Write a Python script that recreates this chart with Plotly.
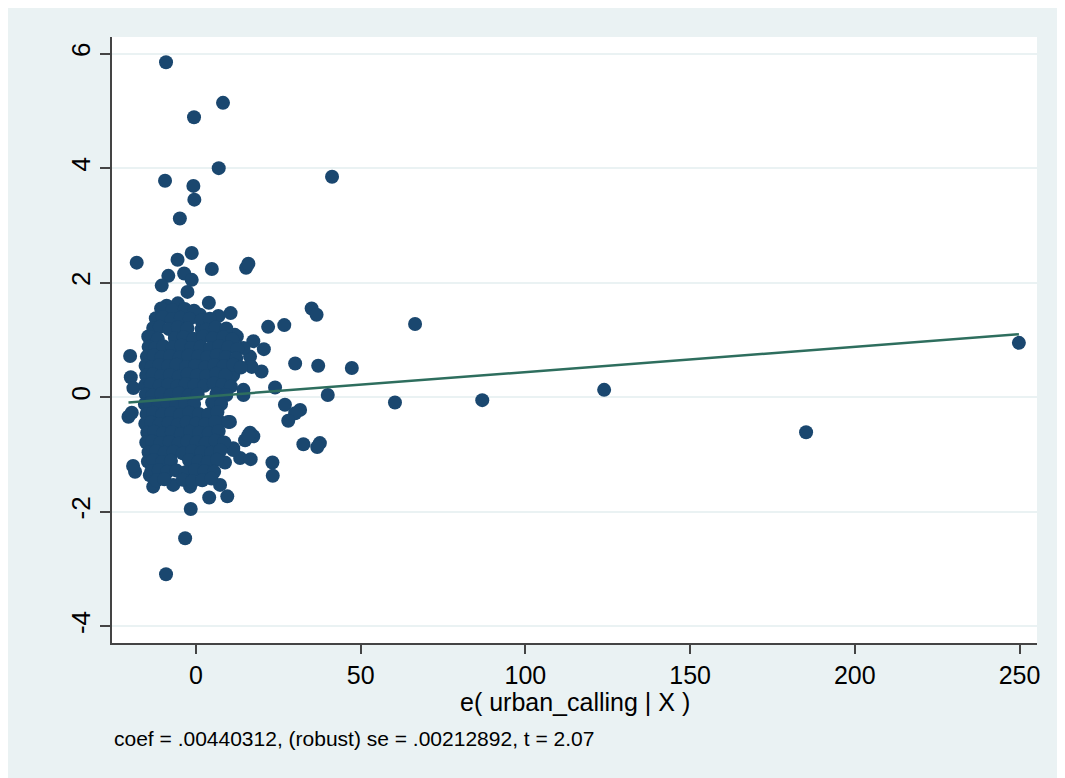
import plotly.graph_objects as go

# Added-variable plot: e(urban_calling | X) vs residual of outcome
coef = 0.00440312
footnote = "coef = .00440312, (robust) se = .00212892, t = 2.07"
x_title = "e( urban_calling | X )"
x_ticks = [0, 50, 100, 150, 200, 250]
y_ticks = [-4, -2, 0, 2, 4, 6]

outer_pts = [
    (-9.1, 5.85), (8.2, 5.14), (-0.6, 4.89), (6.9, 4.00), (-9.4, 3.78), (-0.8, 3.69),
    (-0.5, 3.45), (-4.9, 3.12), (41.3, 3.85), (-18.0, 2.35), (-1.3, 2.52), (-5.6, 2.40),
    (4.8, 2.24), (15.2, 2.26), (15.9, 2.33), (-8.4, 2.12), (-3.6, 2.16), (-1.3, 2.05),
    (-10.4, 1.95), (-2.6, 1.84), (3.9, 1.65), (10.5, 1.47), (-8.9, 1.60), (-5.5, 1.64),
    (6.8, 1.42), (1.2, 1.44), (26.8, 1.26), (35.1, 1.55), (36.6, 1.44), (66.5, 1.28),
    (21.9, 1.23), (-20.0, 0.72), (-14.2, 0.68), (-14.5, 1.06), (17.4, 0.98), (20.6, 0.84),
    (30.1, 0.59), (19.9, 0.45), (16.4, 0.56), (16.4, 0.71), (-19.8, 0.35), (-19.0, 0.16),
    (37.1, 0.55), (47.3, 0.51), (40.0, 0.04), (60.4, -0.09), (86.9, -0.05), (123.9, 0.13),
    (185.2, -0.61), (249.8, 0.95), (-20.5, -0.34), (-19.5, -0.27), (27.0, -0.13),
    (31.6, -0.22), (30.1, -0.28), (28.0, -0.41), (32.6, -0.82), (37.6, -0.80), (36.8, -0.87),
    (23.2, -1.14), (23.3, -1.37), (-18.5, -1.30), (-19.1, -1.20), (-13.0, -1.56),
    (-6.9, -1.53), (4.0, -1.75), (9.5, -1.73), (-1.6, -1.95), (-3.3, -2.46), (-9.1, -3.09),
    (8.8, -1.14), (13.4, -1.06), (16.6, -1.08), (14.9, -0.75), (16.4, -0.62), (17.4, -0.68),
    (11.3, -0.89), (10.3, -0.43), (14.4, 0.04), (12.4, 1.06), (16.9, 0.53), (11.3, 0.39),
    (24.0, 0.17), (7.3, -0.43), (7.3, -1.53), (-1.8, -1.56), (1.7, 1.19), (11.8, 1.09),
    (14.4, 0.86), (10.8, 0.36), (14.4, 0.13), (9.8, -0.43), (15.9, -0.66), (11.3, -0.92),
    (-14.0, -0.80), (-14.0, -1.36),
]

# Dense central cloud
core_pts = [
    (-10.6, 1.55), (-7.2, 1.52), (-3.4, 1.54), (-0.6, 1.51),
    (-12.2, 1.38), (-10.1, 1.40), (-7.4, 1.36), (-4.6, 1.39), (-1.9, 1.37), (1.6, 1.34), (4.2, 1.37),
    (-13.0, 1.21), (-11.0, 1.23), (-8.2, 1.19), (-5.5, 1.22), (-2.6, 1.20), (3.1, 1.18), (6.0, 1.22), (9.2, 1.20),
    (-13.5, 1.04), (-11.6, 1.02), (-6.4, 1.03), (-3.7, 1.05), (-0.8, 1.02), (2.2, 1.06), (5.1, 1.03), (8.3, 1.05), (11.0, 1.01),
    (-14.4, 0.88), (-12.3, 0.86), (-9.9, 0.89), (-7.1, 0.87), (-4.4, 0.90), (-1.5, 0.86), (1.4, 0.88), (4.3, 0.85), (7.0, 0.89), (9.8, 0.87), (12.5, 0.84),
    (-14.9, 0.71), (-12.8, 0.73), (-10.4, 0.70), (-7.8, 0.72), (-5.0, 0.69), (-2.3, 0.73), (0.6, 0.71), (3.5, 0.70), (6.3, 0.74), (9.1, 0.70), (12.2, 0.68),
    (-15.3, 0.55), (-13.5, 0.53), (-11.2, 0.56), (-8.5, 0.54), (-5.9, 0.57), (-3.0, 0.53), (-0.2, 0.55), (2.8, 0.52), (5.6, 0.56), (8.4, 0.54), (11.3, 0.57), (13.6, 0.52),
    (-15.1, 0.38), (-13.1, 0.40), (-10.6, 0.37), (-7.9, 0.39), (-5.2, 0.36), (-2.5, 0.40), (0.3, 0.38), (3.2, 0.37), (6.1, 0.41), (8.9, 0.38),
    (-15.4, 0.21), (-13.7, 0.23), (-11.0, 0.20), (-8.4, 0.22), (-5.7, 0.19), (-3.1, 0.23), (-0.4, 0.21), (2.5, 0.20), (5.4, 0.24), (8.0, 0.21), (10.6, 0.19),
    (-15.2, 0.05), (-13.2, 0.03), (-10.5, 0.06), (-7.7, 0.04), (-5.1, 0.07), (-2.2, 0.03), (0.5, 0.05), (6.2, 0.06), (9.2, 0.04),
    (-15.5, -0.12), (-13.9, -0.10), (-11.3, -0.13), (-8.6, -0.11), (-6.0, -0.14), (-3.3, -0.10), (-0.6, -0.12), (4.9, -0.09), (7.6, -0.12),
    (-15.0, -0.29), (-13.0, -0.27), (-10.2, -0.30), (-7.5, -0.28), (-4.8, -0.31), (-2.0, -0.27), (0.9, -0.29), (3.7, -0.30), (6.5, -0.26),
    (-15.4, -0.46), (-13.6, -0.44), (-11.0, -0.47), (-8.3, -0.45), (-5.5, -0.48), (-2.8, -0.44), (0.0, -0.46), (2.9, -0.47), (5.8, -0.43),
    (-14.8, -0.62), (-12.7, -0.60), (-10.0, -0.63), (-7.3, -0.61), (-4.6, -0.64), (-1.8, -0.60), (1.0, -0.62), (3.9, -0.63), (6.9, -0.59),
    (-15.1, -0.79), (-13.3, -0.77), (-10.8, -0.80), (-8.0, -0.78), (-5.3, -0.81), (-2.6, -0.77), (0.2, -0.79), (3.0, -0.80), (5.9, -0.76), (8.6, -0.79),
    (-14.4, -0.96), (-12.1, -0.94), (-9.5, -0.97), (-6.8, -0.95), (-4.0, -0.98), (-1.2, -0.94), (1.7, -0.96), (4.6, -0.97), (7.4, -0.93),
    (-14.6, -1.12), (-12.9, -1.10), (-10.3, -1.13), (-7.6, -1.11), (-2.1, -1.10), (0.8, -1.12), (3.6, -1.13), (6.4, -1.09),
    (-13.5, -1.29), (-11.3, -1.27), (-8.7, -1.30), (-5.9, -1.28), (-3.2, -1.31), (-0.3, -1.27), (2.6, -1.29), (5.5, -1.30),
    (-12.0, -1.45), (-9.6, -1.43), (-4.0, -1.44), (-1.1, -1.47), (1.9, -1.45), (4.7, -1.42),
]

all_pts = outer_pts + core_pts
x_vals = [p[0] for p in all_pts]
y_vals = [p[1] for p in all_pts]

x_lo, x_hi = min(x_vals), max(x_vals)
fit_x = [x_lo, x_hi]
fit_y = [coef * v for v in fit_x]

MARKER = "#1A476F"
LINE = "#2E6E5E"
BG = "#EAF2F3"
FONT = "Liberation Sans, Arial, sans-serif"

fig = go.Figure()
fig.add_trace(go.Scatter(
    x=x_vals, y=y_vals, mode="markers",
    marker=dict(size=14, color=MARKER, line=dict(width=0)),
    showlegend=False, hoverinfo="x+y",
))
fig.add_trace(go.Scatter(
    x=fit_x, y=fit_y, mode="lines",
    line=dict(color=LINE, width=2.5),
    showlegend=False, hoverinfo="skip",
))

fig.update_layout(
    width=1057, height=770,
    margin=dict(l=104, r=28, t=29, b=135),
    paper_bgcolor=BG, plot_bgcolor="white",
    font=dict(family=FONT, color="black"),
    showlegend=False,
    xaxis=dict(
        range=[-25.5, 255.3], tickvals=x_ticks, ticktext=[str(t) for t in x_ticks],
        showgrid=False, zeroline=False,
        showline=True, linecolor="#444444", linewidth=1.5,
        ticks="outside", ticklen=9, tickwidth=1.5, tickcolor="#444444",
        tickfont=dict(size=25, family=FONT, color="black"),
    ),
    yaxis=dict(
        range=[-4.29, 6.29], tickvals=y_ticks, ticktext=[str(t) for t in y_ticks],
        showgrid=True, gridcolor=BG, gridwidth=2, zeroline=False,
        showline=True, linecolor="#444444", linewidth=1.5,
        ticks="outside", ticklen=10, tickwidth=1.5, tickcolor="#444444",
        tickangle=-90,
        tickfont=dict(size=26, family=FONT, color="black"),
    ),
    annotations=[
        dict(text=x_title, xref="paper", yref="paper", x=0.5, y=-0.097,
             xanchor="center", yanchor="middle", showarrow=False,
             font=dict(size=25, family=FONT, color="black")),
        dict(text=footnote, xref="paper", yref="paper", x=0.0, y=-0.157,
             xanchor="left", yanchor="middle", showarrow=False,
             font=dict(size=21, family=FONT, color="black")),
    ],
)

fig.write_html("out.html")
